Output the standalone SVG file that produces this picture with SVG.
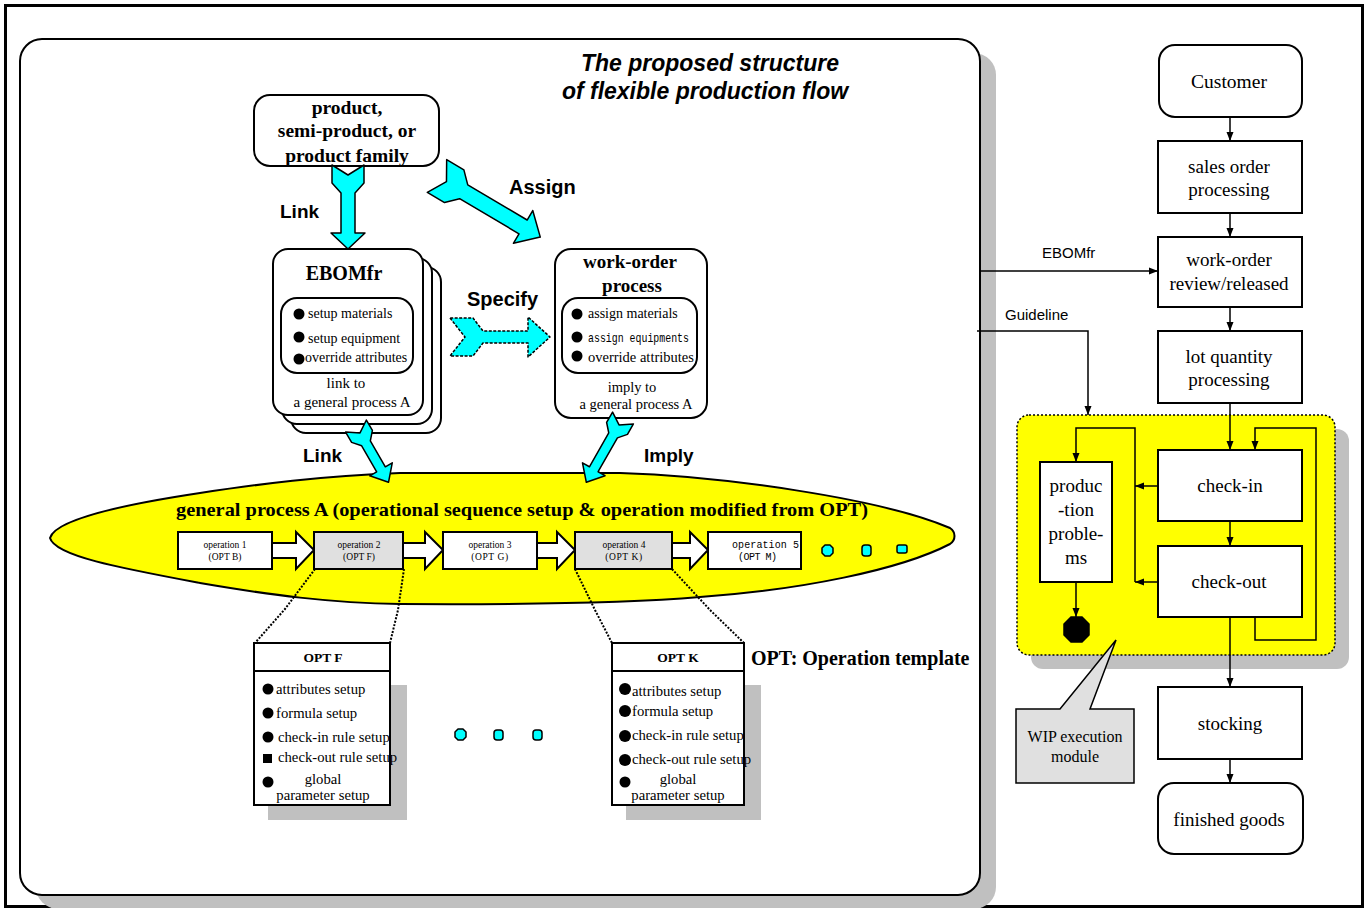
<svg xmlns="http://www.w3.org/2000/svg" width="1372" height="908" viewBox="0 0 1372 908">
<defs>
<style>
.ser{font-family:"Liberation Serif","Times New Roman",serif;fill:#000}
.sans{font-family:"Liberation Sans",Arial,sans-serif;fill:#000}
.mono{font-family:"Liberation Mono","Courier New",monospace;fill:#000}
.b{font-weight:bold}
.box{fill:#fff;stroke:#000;stroke-width:2}
.cy{fill:#00ffff;stroke:#000;stroke-width:1.5;stroke-linejoin:round}
.dot{fill:#000}
.ln{fill:none;stroke:#000;stroke-width:1.5}
.dash{fill:none;stroke:#000;stroke-width:2;stroke-dasharray:2 1.5}
.shadow{fill:#c0c0c0}
.mid{text-anchor:middle}
</style>
<marker id="ah" viewBox="0 0 9 8" refX="9" refY="4" markerWidth="9" markerHeight="8" markerUnits="userSpaceOnUse" orient="auto">
<path d="M0,0.5 L9,4 L0,7.5 Z" fill="#000"/>
</marker>
</defs>
<rect width="1372" height="908" fill="#fff"/>
<rect x="5.5" y="5.5" width="1357" height="901" fill="none" stroke="#000" stroke-width="3"/>

<g id="panel">
<rect class="shadow" x="36" y="53" width="960" height="856" rx="22"/>
<rect x="20" y="39" width="960" height="856" rx="22" fill="#fff" stroke="#000" stroke-width="2"/>
<text class="sans b mid" font-style="italic" font-size="23" x="710" y="71">The proposed structure</text>
<text class="sans b mid" font-style="italic" font-size="23" x="705" y="99">of flexible production flow</text>
</g>

<g id="product">
<rect class="box" x="254" y="95" width="185" height="71" rx="16"/>
<text class="ser b mid" font-size="19.5" x="347" y="114">product,</text>
<text class="ser b mid" font-size="19.5" x="347" y="137">semi-product, or</text>
<text class="ser b mid" font-size="19.5" x="347" y="162">product family</text>
</g>

<g id="ebomfr">
<rect class="box" x="291" y="267" width="150" height="166" rx="15"/>
<rect class="box" x="282" y="258" width="150" height="166" rx="15"/>
<rect class="box" x="273" y="249" width="150" height="166" rx="15"/>
<text class="ser b mid" font-size="20" x="344" y="280">EBOMfr</text>
<rect class="box" x="281" y="298" width="132" height="75" rx="16"/>
<circle class="dot" cx="299" cy="314" r="5.5"/>
<circle class="dot" cx="299" cy="337" r="5.5"/>
<circle class="dot" cx="299" cy="359" r="5.5"/>
<text class="ser" font-size="14" x="308" y="318">setup materials</text>
<text class="ser" font-size="14" x="308" y="343">setup equipment</text>
<text class="ser" font-size="14" x="305" y="362">override attributes</text>
<text class="ser mid" font-size="15" x="346" y="388">link to</text>
<text class="ser mid" font-size="15" x="352" y="407">a general process A</text>
</g>

<g id="workorder">
<rect class="box" x="555" y="249" width="152" height="169" rx="16"/>
<text class="ser b mid" font-size="19" x="630" y="268">work-order</text>
<text class="ser b mid" font-size="19" x="632" y="292">process</text>
<rect class="box" x="562" y="298" width="135" height="75" rx="16"/>
<circle class="dot" cx="577" cy="314" r="5.5"/>
<circle class="dot" cx="577" cy="337" r="5.5"/>
<circle class="dot" cx="577" cy="356" r="5.5"/>
<text class="ser" font-size="14" x="588" y="318">assign materials</text>
<text class="mono" font-size="13" x="588" y="342" textLength="101" lengthAdjust="spacingAndGlyphs">assign equipments</text>
<text class="ser" font-size="14.5" x="588" y="362">override attributes</text>
<text class="ser mid" font-size="14.5" x="632" y="392">imply to</text>
<text class="ser mid" font-size="14.5" x="636" y="409">a general process A</text>
</g>

<g id="general-process">
<path d="M50,538 C55,520 120,505 200,493 C260,484 320,476 400,473 L620,473 C720,476 880,498 950,528 C956,532 956,540 950,544 C900,570 800,590 700,597 C640,602 560,605 400,604 C330,603 270,595 200,583 C120,568 55,556 50,538 Z" fill="#ffff00" stroke="#000" stroke-width="2"/>
<text class="ser b" font-size="19.5" x="176" y="516" textLength="692" lengthAdjust="spacingAndGlyphs">general process A (operational sequence setup &amp; operation modified from OPT)</text>
<rect class="box" x="178" y="532" width="94" height="37"/>
<text class="ser mid" font-size="9.5" x="225" y="548">operation 1</text>
<text class="ser mid" font-size="9.5" x="225" y="560">(OPT B)</text>
<path class="box" d="M272,543 L296,543 L296,532 L314,550 L296,569 L296,558 L272,558 Z"/>
<rect class="box" x="314" y="532" width="89" height="37" style="fill:#e0e0e0"/>
<text class="ser mid" font-size="9.5" x="359" y="548">operation 2</text>
<text class="ser mid" font-size="9.5" x="359" y="560">(OPT F)</text>
<path class="box" d="M403,543 L425,543 L425,532 L443,550 L425,569 L425,558 L403,558 Z"/>
<rect class="box" x="443" y="532" width="94" height="37"/>
<text class="ser mid" font-size="9.5" x="490" y="548">operation 3</text>
<text class="ser mid" font-size="9.5" x="490" y="560" letter-spacing="0.6">(OPT G)</text>
<path class="box" d="M537,543 L557,543 L557,532 L575,550 L557,569 L557,558 L537,558 Z"/>
<rect class="box" x="575" y="532" width="97" height="37" style="fill:#e0e0e0"/>
<text class="ser mid" font-size="9.5" x="624" y="548">operation 4</text>
<text class="ser mid" font-size="9.5" x="624" y="560" letter-spacing="0.6">(OPT K)</text>
<path class="box" d="M672,543 L690,543 L690,532 L708,550 L690,569 L690,558 L672,558 Z"/>
<rect class="box" x="708" y="532" width="93" height="37"/>
<text class="mono" font-size="10" x="732" y="548" textLength="67" lengthAdjust="spacing">operation 5</text>
<text class="mono" font-size="10" x="738" y="560" textLength="39" lengthAdjust="spacing">(OPT M)</text>
<path class="cy" d="M825,545 L830,545 L833,548 L833,553 L830,556 L825,556 L822,553 L822,548 Z"/>
<rect class="cy" x="862" y="545" width="9" height="11" rx="3"/>
<rect class="cy" x="897" y="545" width="10" height="8" rx="2"/>
</g>

<g id="opt-f">
<path class="dash" d="M315,569 L285,609 L255,643"/>
<path class="dash" d="M404,569 L398,610 L390,643"/>
<rect class="shadow" x="268" y="685" width="139" height="135"/>
<rect class="box" x="254" y="643" width="136" height="162"/>
<line x1="254" y1="671" x2="390" y2="671" stroke="#000" stroke-width="2"/>
<text class="ser b mid" font-size="13.5" x="323" y="662">OPT F</text>
<circle class="dot" cx="268" cy="689" r="5.5"/>
<circle class="dot" cx="268" cy="713" r="5.5"/>
<circle class="dot" cx="268" cy="737" r="5.5"/>
<rect class="dot" x="263" y="754" width="9" height="9"/>
<circle class="dot" cx="268" cy="782" r="5.5"/>
<text class="ser" font-size="14.7" x="276" y="694">attributes setup</text>
<text class="ser" font-size="14.7" x="276" y="718">formula setup</text>
<text class="ser" font-size="14.7" x="278" y="742">check-in rule setup</text>
<text class="ser" font-size="14.7" x="278" y="762">check-out rule setup</text>
<text class="ser mid" font-size="14.7" x="323" y="784">global</text>
<text class="ser mid" font-size="14.7" x="323" y="800">parameter setup</text>
</g>

<g id="opt-k">
<path class="dash" d="M575,569 L595,610 L612,643"/>
<path class="dash" d="M672,569 L710,610 L744,643"/>
<rect class="shadow" x="626" y="685" width="135" height="135"/>
<rect class="box" x="612" y="643" width="132" height="162"/>
<line x1="612" y1="671" x2="744" y2="671" stroke="#000" stroke-width="2"/>
<text class="ser b mid" font-size="13.5" x="678" y="662">OPT K</text>
<circle class="dot" cx="625" cy="689" r="6"/>
<circle class="dot" cx="625" cy="711" r="6"/>
<circle class="dot" cx="625" cy="736" r="6"/>
<circle class="dot" cx="625" cy="760" r="6"/>
<circle class="dot" cx="625" cy="782" r="5.5"/>
<text class="ser" font-size="14.7" x="632" y="696">attributes setup</text>
<text class="ser" font-size="14.7" x="632" y="716">formula setup</text>
<text class="ser" font-size="14.7" x="632" y="740">check-in rule setup</text>
<text class="ser" font-size="14.7" x="632" y="764">check-out rule setup</text>
<text class="ser mid" font-size="14.7" x="678" y="784">global</text>
<text class="ser mid" font-size="14.7" x="678" y="800">parameter setup</text>
<text class="ser b" font-size="20" x="751" y="665">OPT: Operation template</text>
</g>

<g id="ellipsis-dots">
<path class="cy" d="M458,729 L463,729 L466,732 L466,737 L463,740 L458,740 L455,737 L455,732 Z"/>
<rect class="cy" x="494" y="730" width="9" height="10" rx="3"/>
<rect class="cy" x="533" y="730" width="9" height="10" rx="3"/>
</g>

<g id="block-arrows">
<path class="cy" transform="translate(348,165) rotate(90)" d="M0,-16 L10,0 L0,16 L18,16 L28,7 L68,7 L68,17 L84,0 L68,-17 L68,-7 L28,-7 L18,-16 Z"/>
<path class="cy" transform="translate(437,176) rotate(30.6)" d="M0,-19 L11,0 L0,19 L20,19 L31,8 L100,8 L100,19 L120,0 L100,-19 L100,-8 L31,-8 L20,-19 Z"/>
<path class="cy" transform="translate(450,337)" style="stroke-dasharray:3 1.5" d="M0,-19 L15,0 L0,19 L23,19 L33,6 L78,6 L78,20 L100,0 L78,-20 L78,-6 L33,-6 L23,-19 Z"/>
<path class="cy" transform="translate(356,426) rotate(60)" d="M0,-12 L8,0 L0,12 L12,12 L20,5 L50,5 L50,13 L65,0 L50,-13 L50,-5 L20,-5 L12,-12 Z"/>
<path class="cy" transform="translate(623,418) rotate(119.7)" d="M0,-12 L8,0 L0,12 L12,12 L20,5 L59,5 L59,13 L74,0 L59,-13 L59,-5 L20,-5 L12,-12 Z"/>
<text class="sans b" font-size="19" x="280" y="218">Link</text>
<text class="sans b" font-size="20" x="509" y="194">Assign</text>
<text class="sans b" font-size="20" x="467" y="306">Specify</text>
<text class="sans b" font-size="19" x="303" y="462">Link</text>
<text class="sans b" font-size="19" x="644" y="462">Imply</text>
</g>

<g id="wip-region">
<rect class="shadow" x="1031" y="429" width="318" height="240" rx="12"/>
<rect x="1017" y="415" width="318" height="240" rx="12" fill="#ffff00" stroke="#000" stroke-width="1.5" stroke-dasharray="2 2"/>
</g>

<g id="customer">
<rect class="box" x="1159" y="45" width="143" height="72" rx="16"/>
<text class="ser mid" font-size="19.5" x="1229" y="88">Customer</text>
</g>
<g id="sales-order">
<rect class="box" x="1158" y="141" width="144" height="72"/>
<text class="ser mid" font-size="19" x="1229" y="173">sales order</text>
<text class="ser mid" font-size="19" x="1229" y="196">processing</text>
</g>
<g id="work-order-review">
<rect class="box" x="1158" y="237" width="144" height="70"/>
<text class="ser mid" font-size="19" x="1229" y="266">work-order</text>
<text class="ser mid" font-size="19" x="1229" y="290">review/released</text>
</g>
<g id="lot-quantity">
<rect class="box" x="1158" y="331" width="144" height="72"/>
<text class="ser mid" font-size="19" x="1229" y="363">lot quantity</text>
<text class="ser mid" font-size="19" x="1229" y="386">processing</text>
</g>
<g id="check-in">
<rect class="box" x="1158" y="450" width="144" height="71"/>
<text class="ser mid" font-size="19" x="1230" y="492">check-in</text>
</g>
<g id="check-out">
<rect class="box" x="1158" y="546" width="144" height="71"/>
<text class="ser mid" font-size="19" x="1229" y="588">check-out</text>
</g>
<g id="production-problems">
<rect class="box" x="1040" y="462" width="72" height="120"/>
<text class="ser mid" font-size="19" x="1076" y="492">produc</text>
<text class="ser mid" font-size="19" x="1076" y="516">-tion</text>
<text class="ser mid" font-size="19" x="1076" y="540">proble-</text>
<text class="ser mid" font-size="19" x="1076" y="564">ms</text>
</g>
<g id="end-state">
<path d="M1071,617 L1082,617 L1089,624 L1089,635 L1082,642 L1071,642 L1064,635 L1064,624 Z" fill="#000" stroke="#000" stroke-width="1.5"/>
</g>
<g id="stocking">
<rect class="box" x="1158" y="687" width="144" height="72"/>
<text class="ser mid" font-size="19" x="1230" y="730">stocking</text>
</g>
<g id="finished-goods">
<rect class="box" x="1158" y="783" width="145" height="71" rx="16"/>
<text class="ser mid" font-size="19" x="1229" y="826">finished goods</text>
</g>
<g id="wip-callout">
<path d="M1016,709 L1060,709 L1116,640 L1090,709 L1134,709 L1134,783 L1016,783 Z" fill="#e0e0e0" stroke="#000" stroke-width="1.5"/>
<text class="ser mid" font-size="16" x="1075" y="742">WIP execution</text>
<text class="ser mid" font-size="16" x="1075" y="762">module</text>
</g>

<g id="connectors">
<line class="ln" x1="1230" y1="117" x2="1230" y2="141" marker-end="url(#ah)"/>
<line class="ln" x1="1230" y1="213" x2="1230" y2="237" marker-end="url(#ah)"/>
<line class="ln" x1="1230" y1="307" x2="1230" y2="331" marker-end="url(#ah)"/>
<line class="ln" x1="1230" y1="403" x2="1230" y2="450" marker-end="url(#ah)"/>
<line class="ln" x1="1230" y1="521" x2="1230" y2="546" marker-end="url(#ah)"/>
<line class="ln" x1="1230" y1="617" x2="1230" y2="687" marker-end="url(#ah)"/>
<line class="ln" x1="1230" y1="759" x2="1230" y2="783" marker-end="url(#ah)"/>
<line class="ln" x1="980" y1="271" x2="1158" y2="271" marker-end="url(#ah)"/>
<polyline class="ln" points="977,331 1088,331 1088,415" marker-end="url(#ah)"/>
<polyline class="ln" points="1255,617 1255,640 1316,640 1316,428 1255,428 1255,450" marker-end="url(#ah)"/>
<line class="ln" x1="1158" y1="486" x2="1135" y2="486" marker-end="url(#ah)"/>
<line class="ln" x1="1158" y1="582" x2="1135" y2="582" marker-end="url(#ah)"/>
<polyline class="ln" points="1135,582 1135,428 1076,428 1076,462" marker-end="url(#ah)"/>
<line class="ln" x1="1076" y1="582" x2="1076" y2="617" marker-end="url(#ah)"/>
<text class="sans" font-size="15" x="1042" y="258">EBOMfr</text>
<text class="sans" font-size="15" x="1005" y="320">Guideline</text>
</g>
</svg>
